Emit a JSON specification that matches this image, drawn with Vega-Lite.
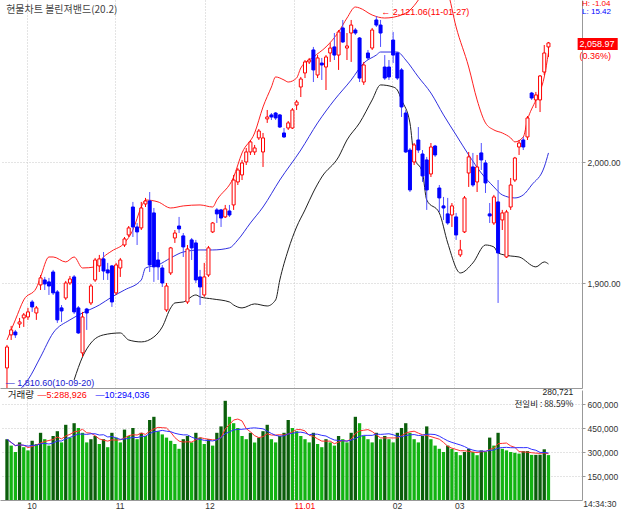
{
"$schema": "https://vega.github.io/schema/vega-lite/v6.json",
"padding": 0,
"spacing": 2,
"bounds": "flush",
"background": "white",
"config": {"view": {"stroke": null}, "axis": {"labelFont": "Liberation Sans", "labelFontSize": 8.5, "labelColor": "#333", "domainColor": "#999", "tickColor": "#999", "gridColor": "#c8c8c8", "gridDash": [1, 2], "labelOverlap": false}},
"datasets": {
"c": [
{"i":0,"o":1830.2,"h":1849.2,"l":1812,"c":1847.5,"v":380000},
{"i":1,"o":1857.5,"h":1864.9,"l":1853.3,"c":1861.6,"v":340000},
{"i":2,"o":1859.9,"h":1861.6,"l":1855.0,"c":1857.5,"v":300000},
{"i":3,"o":1866.5,"h":1871.5,"l":1863.2,"c":1868.2,"v":360000},
{"i":4,"o":1871.5,"h":1875.6,"l":1864.1,"c":1874.0,"v":330000},
{"i":5,"o":1872.3,"h":1879.8,"l":1869.9,"c":1876.5,"v":310000},
{"i":6,"o":1884.7,"h":1886.4,"l":1876.5,"c":1880.6,"v":370000},
{"i":7,"o":1875.6,"h":1881.4,"l":1869.9,"c":1879.8,"v":350000},
{"i":8,"o":1898.8,"h":1907.0,"l":1894.6,"c":1904.6,"v":420000},
{"i":9,"o":1902.9,"h":1905.4,"l":1894.6,"c":1899.6,"v":380000},
{"i":10,"o":1901.3,"h":1904.6,"l":1890.5,"c":1897.9,"v":340000},
{"i":11,"o":1909.5,"h":1911.2,"l":1890.5,"c":1892.2,"v":400000},
{"i":12,"o":1893.0,"h":1894.6,"l":1867.4,"c":1869.9,"v":430000},
{"i":13,"o":1879.8,"h":1882.2,"l":1868.2,"c":1877.3,"v":360000},
{"i":14,"o":1888.0,"h":1902.1,"l":1886.4,"c":1900.4,"v":470000},
{"i":15,"o":1900.4,"h":1906.2,"l":1898.8,"c":1903.7,"v":390000},
{"i":16,"o":1905.4,"h":1907.0,"l":1874.8,"c":1876.5,"v":480000},
{"i":17,"o":1879.8,"h":1881.4,"l":1858.3,"c":1859.1,"v":450000},
{"i":18,"o":1842.6,"h":1876.5,"l":1839.3,"c":1872.3,"v":420000},
{"i":19,"o":1878.9,"h":1879.8,"l":1861.6,"c":1875.6,"v":360000},
{"i":20,"o":1883.9,"h":1899.6,"l":1882.2,"c":1897.9,"v":380000},
{"i":21,"o":1902.9,"h":1921.1,"l":1901.3,"c":1919.4,"v":400000},
{"i":22,"o":1914.5,"h":1923.6,"l":1909.5,"c":1920.3,"v":350000},
{"i":23,"o":1920.3,"h":1926.0,"l":1902.9,"c":1910.3,"v":380000},
{"i":24,"o":1911.2,"h":1917.0,"l":1902.9,"c":1908.7,"v":330000},
{"i":25,"o":1914.5,"h":1915.3,"l":1880.6,"c":1884.7,"v":420000},
{"i":26,"o":1892.2,"h":1917.0,"l":1890.5,"c":1915.3,"v":390000},
{"i":27,"o":1912.8,"h":1921.1,"l":1905.4,"c":1919.4,"v":360000},
{"i":28,"o":1931.8,"h":1938.4,"l":1930.2,"c":1936.8,"v":440000},
{"i":29,"o":1940.1,"h":1947.5,"l":1938.4,"c":1945.9,"v":400000},
{"i":30,"o":1963.2,"h":1967.4,"l":1938.4,"c":1946.7,"v":450000},
{"i":31,"o":1946.7,"h":1950.0,"l":1931.8,"c":1942.6,"v":380000},
{"i":32,"o":1945.9,"h":1967.4,"l":1944.2,"c":1962.4,"v":420000},
{"i":33,"o":1965.7,"h":1970.7,"l":1963.2,"c":1968.2,"v":400000},
{"i":34,"o":1968.2,"h":1975.6,"l":1909.5,"c":1915.3,"v":500000},
{"i":35,"o":1958.3,"h":1962.4,"l":1901.3,"c":1913.7,"v":520000},
{"i":36,"o":1919.4,"h":1926.0,"l":1902.9,"c":1913.7,"v":430000},
{"i":37,"o":1912.8,"h":1915.3,"l":1897.1,"c":1900.4,"v":410000},
{"i":38,"o":1878.1,"h":1900.4,"l":1876.5,"c":1897.9,"v":390000},
{"i":39,"o":1908.7,"h":1930.2,"l":1907.0,"c":1929.4,"v":370000},
{"i":40,"o":1937.6,"h":1944.2,"l":1933.5,"c":1941.7,"v":350000},
{"i":41,"o":1947.5,"h":1955.0,"l":1941.7,"c":1945.1,"v":320000},
{"i":42,"o":1939.3,"h":1941.7,"l":1921.9,"c":1930.2,"v":380000},
{"i":43,"o":1884.7,"h":1931.8,"l":1883.1,"c":1928.5,"v":400000},
{"i":44,"o":1936.0,"h":1937.6,"l":1919.4,"c":1929.4,"v":360000},
{"i":45,"o":1933.5,"h":1936.0,"l":1900.4,"c":1902.9,"v":420000},
{"i":46,"o":1905.4,"h":1911.2,"l":1882.2,"c":1897.1,"v":390000},
{"i":47,"o":1890.5,"h":1917.0,"l":1888.9,"c":1905.4,"v":350000},
{"i":48,"o":1907.0,"h":1931.0,"l":1905.4,"c":1929.4,"v":380000},
{"i":49,"o":1942.6,"h":1950.8,"l":1941.7,"c":1950.0,"v":340000},
{"i":50,"o":1960.8,"h":1962.4,"l":1950.0,"c":1957.5,"v":420000},
{"i":51,"o":1960.8,"h":1961.6,"l":1946.7,"c":1954.1,"v":460000},
{"i":52,"o":1955.0,"h":1964.9,"l":1954.1,"c":1961.6,"v":620000},
{"i":53,"o":1959.9,"h":1964.9,"l":1955.0,"c":1956.6,"v":520000},
{"i":54,"o":1964.9,"h":1989.7,"l":1960.8,"c":1985.5,"v":480000},
{"i":55,"o":1983.9,"h":1995.5,"l":1981.4,"c":1993.8,"v":450000},
{"i":56,"o":1989.7,"h":2002.1,"l":1985.5,"c":1999.6,"v":400000},
{"i":57,"o":2000.4,"h":2012.0,"l":1997.9,"c":2008.7,"v":380000},
{"i":58,"o":2008.7,"h":2018.6,"l":2006.2,"c":2017.0,"v":420000},
{"i":59,"o":2008.7,"h":2014.5,"l":2006.2,"c":2012.0,"v":360000},
{"i":60,"o":2020.3,"h":2027.7,"l":2018.6,"c":2026.0,"v":390000},
{"i":61,"o":2008.7,"h":2024.4,"l":1996.3,"c":2020.3,"v":430000},
{"i":62,"o":2036.0,"h":2043.4,"l":2032.7,"c":2037.6,"v":470000},
{"i":63,"o":2039.3,"h":2040.9,"l":2035.1,"c":2037.6,"v":380000},
{"i":64,"o":2040.9,"h":2041.7,"l":2035.1,"c":2036.8,"v":360000},
{"i":65,"o":2039.3,"h":2040.1,"l":2028.5,"c":2029.3,"v":400000},
{"i":66,"o":2024.4,"h":2028.5,"l":2020.3,"c":2021.1,"v":420000},
{"i":67,"o":2028.5,"h":2034.3,"l":2026.9,"c":2032.7,"v":500000},
{"i":68,"o":2028.5,"h":2045.0,"l":2027.7,"c":2043.4,"v":450000},
{"i":69,"o":2047.5,"h":2051.7,"l":2043.4,"c":2050.0,"v":430000},
{"i":70,"o":2062.4,"h":2070.7,"l":2054.1,"c":2069.0,"v":400000},
{"i":71,"o":2074.0,"h":2084.7,"l":2069.8,"c":2083.1,"v":380000},
{"i":72,"o":2083.1,"h":2086.4,"l":2081.4,"c":2084.7,"v":360000},
{"i":73,"o":2093.0,"h":2095.5,"l":2066.5,"c":2076.5,"v":420000},
{"i":74,"o":2072.3,"h":2088.8,"l":2069.8,"c":2086.4,"v":350000},
{"i":75,"o":2082.2,"h":2086.4,"l":2068.2,"c":2080.6,"v":330000},
{"i":76,"o":2078.9,"h":2088.8,"l":2059.9,"c":2087.2,"v":380000},
{"i":77,"o":2090.5,"h":2098.8,"l":2083.1,"c":2094.6,"v":360000},
{"i":78,"o":2095.5,"h":2107.0,"l":2084.7,"c":2088.8,"v":340000},
{"i":79,"o":2088.8,"h":2109.5,"l":2076.5,"c":2107.9,"v":400000},
{"i":80,"o":2111.2,"h":2117.8,"l":2098.8,"c":2099.6,"v":380000},
{"i":81,"o":2094.6,"h":2107.0,"l":2084.7,"c":2096.3,"v":360000},
{"i":82,"o":2107.0,"h":2117.8,"l":2083.1,"c":2113.6,"v":420000},
{"i":83,"o":2109.5,"h":2111.2,"l":2105.4,"c":2107.0,"v":520000},
{"i":84,"o":2102.9,"h":2103.7,"l":2066.5,"c":2069.8,"v":480000},
{"i":85,"o":2066.5,"h":2083.1,"l":2064.1,"c":2080.6,"v":400000},
{"i":86,"o":2090.5,"h":2093.0,"l":2084.7,"c":2086.4,"v":380000},
{"i":87,"o":2094.6,"h":2111.2,"l":2093.0,"c":2109.5,"v":360000},
{"i":88,"o":2117.8,"h":2121.06,"l":2112.0,"c":2113.6,"v":420000},
{"i":89,"o":2113.6,"h":2117.8,"l":2095.5,"c":2107.0,"v":380000},
{"i":90,"o":2078.9,"h":2088.8,"l":2068.2,"c":2069.8,"v":400000},
{"i":91,"o":2078.9,"h":2084.7,"l":2068.2,"c":2070.7,"v":380000},
{"i":92,"o":2101.2,"h":2107.9,"l":2082.2,"c":2088.8,"v":360000},
{"i":93,"o":2090.5,"h":2091.3,"l":2068.2,"c":2069.8,"v":420000},
{"i":94,"o":2076.5,"h":2078.1,"l":2037.6,"c":2045.9,"v":450000},
{"i":95,"o":2040.9,"h":2043.4,"l":2007.9,"c":2008.7,"v":480000},
{"i":96,"o":2010.3,"h":2012.0,"l":1975.6,"c":1977.3,"v":420000},
{"i":97,"o":2000.4,"h":2016.1,"l":1997.9,"c":2014.5,"v":380000},
{"i":98,"o":2018.6,"h":2029.3,"l":2007.9,"c":2010.3,"v":360000},
{"i":99,"o":2007.0,"h":2010.3,"l":1983.9,"c":1988.9,"v":400000},
{"i":100,"o":2002.1,"h":2004.6,"l":1960.8,"c":1977.3,"v":460000},
{"i":101,"o":1990.5,"h":2016.1,"l":1988.0,"c":2012.8,"v":380000},
{"i":102,"o":2013.6,"h":2014.5,"l":2004.6,"c":2006.2,"v":340000},
{"i":103,"o":1978.9,"h":1981.4,"l":1959.1,"c":1970.7,"v":320000},
{"i":104,"o":1964.1,"h":1971.5,"l":1952.5,"c":1962.4,"v":300000},
{"i":105,"o":1957.5,"h":1970.7,"l":1948.4,"c":1950.0,"v":340000},
{"i":106,"o":1956.6,"h":1966.5,"l":1946.7,"c":1964.1,"v":320000},
{"i":107,"o":1955.0,"h":1958.3,"l":1936.0,"c":1940.1,"v":300000},
{"i":108,"o":1923.6,"h":1936.0,"l":1921.9,"c":1927.7,"v":280000},
{"i":109,"o":1942.6,"h":1972.3,"l":1941.7,"c":1970.7,"v":300000},
{"i":110,"o":1991.3,"h":2008.7,"l":1979.8,"c":2004.6,"v":320000},
{"i":111,"o":1996.3,"h":2007.9,"l":1979.8,"c":1981.4,"v":300000},
{"i":112,"o":1983.9,"h":2006.2,"l":1975.6,"c":1996.3,"v":280000},
{"i":113,"o":2007.9,"h":2016.1,"l":1993.8,"c":2002.1,"v":310000},
{"i":114,"o":1999.6,"h":2002.1,"l":1974.8,"c":1983.1,"v":300000},
{"i":115,"o":1957.5,"h":1966.5,"l":1950.0,"c":1955.8,"v":390000},
{"i":116,"o":1950.0,"h":1973.2,"l":1948.4,"c":1971.5,"v":340000},
{"i":117,"o":1967.4,"h":1985.5,"l":1883.9,"c":1925.2,"v":420000},
{"i":118,"o":1952.5,"h":1960.8,"l":1944.2,"c":1958.3,"v":320000},
{"i":119,"o":1921.9,"h":1960.8,"l":1921.1,"c":1959.1,"v":310000},
{"i":120,"o":1963.2,"h":1987.2,"l":1960.8,"c":1981.4,"v":300000},
{"i":121,"o":1985.5,"h":2004.6,"l":1983.9,"c":2003.7,"v":295000},
{"i":122,"o":2012.8,"h":2018.6,"l":2006.2,"c":2016.1,"v":290000},
{"i":123,"o":2018.6,"h":2021.1,"l":2010.3,"c":2012.8,"v":305000},
{"i":124,"o":2021.1,"h":2038.4,"l":2018.6,"c":2036.8,"v":305730},
{"i":125,"o":2057.4,"h":2058.3,"l":2051.7,"c":2053.3,"v":282000},
{"i":126,"o":2051.7,"h":2058.3,"l":2045.0,"c":2055.8,"v":282000},
{"i":127,"o":2051.7,"h":2072.3,"l":2041.7,"c":2071.5,"v":283033},
{"i":128,"o":2074.8,"h":2097.1,"l":2072.3,"c":2090.5,"v":316876},
{"i":129,"o":2095.5,"h":2099.6,"l":2087.2,"c":2098.8,"v":280721}
],
"bu": [
{"i":0,"p":1853.3},{"i":2,"p":1869.9},{"i":4,"p":1886.4},{"i":7,"p":1896.3},{"i":8,"p":1905.4},{"i":10,"p":1921.9},{"i":11,"p":1921.9},{"i":14,"p":1917.8},{"i":16,"p":1921.9},{"i":18,"p":1912.8},{"i":21,"p":1913.7},{"i":23,"p":1921.9},{"i":25,"p":1926.9},{"i":28,"p":1933.5},{"i":30,"p":1944.2},{"i":32,"p":1963.2},{"i":33,"p":1969.0},{"i":36,"p":1967.4},{"i":39,"p":1962.4},{"i":42,"p":1964.1},{"i":46,"p":1964.9},{"i":49,"p":1963.2},{"i":50,"p":1969.0},{"i":54,"p":1988.0},{"i":56,"p":2007.9},{"i":59,"p":2024.4},{"i":61,"p":2045.9},{"i":63,"p":2062.4},{"i":64,"p":2070.7},{"i":66,"p":2068.2},{"i":67,"p":2066.5},{"i":69,"p":2069.8},{"i":70,"p":2078.1},{"i":73,"p":2087.2},{"i":76,"p":2095.5},{"i":79,"p":2107.9},{"i":81,"p":2119.4},{"i":83,"p":2128.5},{"i":84,"p":2127.7},{"i":87,"p":2121.9},{"i":90,"p":2119.4},{"i":94,"p":2121.9},{"i":96,"p":2126.0},{"i":98,"p":2134.3},{"i":100,"p":2146.7},{"i":103,"p":2150.8},{"i":105,"p":2140.9},{"i":107,"p":2112.0},{"i":110,"p":2078.9},{"i":112,"p":2051.7},{"i":114,"p":2032.7},{"i":116,"p":2026.9},{"i":118,"p":2024.4},{"i":120,"p":2020.3},{"i":121,"p":2017.0},{"i":123,"p":2021.1},{"i":124,"p":2035.1},{"i":126,"p":2051.7},{"i":128,"p":2070.7},{"i":129,"p":2090.5}
],
"bm": [
{"i":3,"p":1812.0},{"i":5,"p":1820.3},{"i":8,"p":1839.3},{"i":11,"p":1859.1},{"i":15,"p":1869.9},{"i":18,"p":1875.6},{"i":22,"p":1882.2},{"i":25,"p":1888.9},{"i":28,"p":1894.6},{"i":32,"p":1902.9},{"i":33,"p":1912.8},{"i":36,"p":1915.3},{"i":39,"p":1921.1},{"i":42,"p":1926.0},{"i":46,"p":1927.7},{"i":49,"p":1927.7},{"i":53,"p":1929.4},{"i":55,"p":1936.0},{"i":58,"p":1950.0},{"i":61,"p":1963.2},{"i":65,"p":1985.5},{"i":70,"p":2010.3},{"i":74,"p":2032.7},{"i":78,"p":2051.7},{"i":82,"p":2068.2},{"i":85,"p":2082.2},{"i":88,"p":2088.8},{"i":89,"p":2091.3},{"i":93,"p":2091.3},{"i":95,"p":2084.7},{"i":98,"p":2070.7},{"i":101,"p":2057.4},{"i":104,"p":2039.3},{"i":107,"p":2022.7},{"i":110,"p":2006.2},{"i":113,"p":1991.3},{"i":116,"p":1979.8},{"i":118,"p":1973.2},{"i":121,"p":1970.7},{"i":123,"p":1973.2},{"i":125,"p":1981.4},{"i":128,"p":1996.3},{"i":129,"p":2007.9}
],
"bl": [
{"i":16,"p":1820.3},{"i":18,"p":1839.3},{"i":20,"p":1850.8},{"i":23,"p":1857.5},{"i":27,"p":1859.1},{"i":29,"p":1853.3},{"i":32,"p":1851.7},{"i":35,"p":1855.8},{"i":37,"p":1864.1},{"i":39,"p":1879.8},{"i":40,"p":1883.9},{"i":42,"p":1884.7},{"i":45,"p":1890.5},{"i":46,"p":1888.9},{"i":49,"p":1887.2},{"i":53,"p":1884.7},{"i":54,"p":1882.2},{"i":56,"p":1879.8},{"i":59,"p":1883.1},{"i":62,"p":1881.4},{"i":64,"p":1886.4},{"i":65,"p":1902.9},{"i":67,"p":1927.7},{"i":69,"p":1946.7},{"i":71,"p":1960.8},{"i":73,"p":1975.6},{"i":75,"p":1988.0},{"i":79,"p":2004.6},{"i":81,"p":2018.6},{"i":84,"p":2032.7},{"i":87,"p":2051.7},{"i":89,"p":2064.1},{"i":92,"p":2062.4},{"i":93,"p":2059.9},{"i":94,"p":2051.7},{"i":96,"p":2032.7},{"i":97,"p":2004.6},{"i":99,"p":1991.3},{"i":100,"p":1969.0},{"i":103,"p":1958.3},{"i":105,"p":1933.5},{"i":108,"p":1908.7},{"i":111,"p":1917.0},{"i":114,"p":1931.8},{"i":116,"p":1930.2},{"i":117,"p":1925.2},{"i":120,"p":1922.7},{"i":122,"p":1921.9},{"i":126,"p":1913.7},{"i":128,"p":1917.8},{"i":129,"p":1916.1}
]
},
"vconcat": [
{
"width": 582, "height": 388,
"layer": [
{"data": {"name": "bu"}, "mark": {"type": "line", "color": "#ff2020", "strokeWidth": 1, "clip": true, "interpolate": "monotone"},
 "encoding": {
  "x": {"field": "i", "type": "quantitative", "scale": {"domain": [-0.47, 135.8], "nice": false, "zero": false},
        "axis": {"values": [4.7, 25.8, 47.1, 68.4, 91.8, 106.6], "labels": false, "ticks": false, "domain": true, "grid": true, "title": null}},
  "y": {"field": "p", "type": "quantitative", "scale": {"domain": [1813.6, 2134.3], "nice": false, "zero": false},
        "axis": {"orient": "right", "values": [1900, 2000], "format": ",.2f", "tickSize": 3, "labelPadding": 2, "grid": true, "labelOverlap": false, "title": null}}}},
{"data": {"name": "bm"}, "mark": {"type": "line", "color": "#3030e0", "strokeWidth": 1, "clip": true, "interpolate": "monotone"},
 "encoding": {"x": {"field": "i", "type": "quantitative"}, "y": {"field": "p", "type": "quantitative"}}},
{"data": {"name": "bl"}, "mark": {"type": "line", "color": "#202020", "strokeWidth": 1, "clip": true, "interpolate": "monotone"},
 "encoding": {"x": {"field": "i", "type": "quantitative"}, "y": {"field": "p", "type": "quantitative"}}},
{"data": {"name": "c"}, "mark": {"type": "rule", "clip": true, "strokeWidth": 1},
 "encoding": {"x": {"field": "i", "type": "quantitative"}, "y": {"field": "l", "type": "quantitative"}, "y2": {"field": "h"},
  "color": {"condition": {"test": "datum.c >= datum.o", "value": "#ff0000"}, "value": "#5050ff"}}},
{"data": {"name": "c"}, "mark": {"type": "bar", "width": 3, "clip": true, "strokeWidth": 1},
 "encoding": {"x": {"field": "i", "type": "quantitative"}, "y": {"field": "o", "type": "quantitative"}, "y2": {"field": "c"},
  "fill": {"condition": {"test": "datum.c >= datum.o", "value": "#ffffff"}, "value": "#0000ff"},
  "stroke": {"condition": {"test": "datum.c >= datum.o", "value": "#ff0000"}, "value": "#0000ff"}}},
{"data": {"values": [{}]}, "mark": {"type": "text", "align": "left", "baseline": "middle", "font": "Noto Sans CJK KR", "fontSize": 10, "color": "#444"},
 "encoding": {"x": {"datum": -0.2}, "y": {"datum": 2126}, "text": {"value": "현물차트 볼린져밴드(20.2)"}}},
{"data": {"values": [{}]}, "mark": {"type": "text", "align": "left", "baseline": "middle", "font": "Liberation Sans", "fontSize": 9, "color": "#ff0000", "dx": 2},
 "encoding": {"x": {"datum": 88.7}, "y": {"datum": 2124.5}, "text": {"value": "← 2,121.06(11-01-27)"}}},
{"data": {"values": [{}]}, "mark": {"type": "text", "align": "left", "baseline": "middle", "font": "Liberation Sans", "fontSize": 9, "color": "#2020d0"},
 "encoding": {"x": {"datum": -0.3}, "y": {"datum": 1817.8}, "text": {"value": "— 1,810.60(10-09-20)"}}},
{"data": {"values": [{}]}, "mark": {"type": "rect", "color": "#ff0000", "clip": false},
 "encoding": {"x": {"datum": 135.95}, "x2": {"datum": 145.5}, "y": {"datum": 2102.9}, "y2": {"datum": 2093.0}}},
{"data": {"values": [{}]}, "mark": {"type": "text", "align": "left", "baseline": "middle", "font": "Liberation Sans", "fontSize": 9, "color": "#ffffff", "clip": false},
 "encoding": {"x": {"datum": 136.4}, "y": {"datum": 2097.9}, "text": {"value": "2,058.97"}}},
{"data": {"values": [{}]}, "mark": {"type": "text", "align": "left", "baseline": "middle", "font": "Liberation Sans", "fontSize": 9, "color": "#ff0000", "clip": false},
 "encoding": {"x": {"datum": 136.4}, "y": {"datum": 2088.0}, "text": {"value": "(0.36%)"}}},
{"data": {"values": [{}]}, "mark": {"type": "text", "align": "left", "baseline": "middle", "font": "Liberation Sans", "fontSize": 8, "color": "#ff0000", "clip": false},
 "encoding": {"x": {"datum": 137}, "y": {"datum": 2130.8}, "text": {"value": "H: -1.04"}}},
{"data": {"values": [{}]}, "mark": {"type": "text", "align": "left", "baseline": "middle", "font": "Liberation Sans", "fontSize": 8, "color": "#0000ff", "clip": false},
 "encoding": {"x": {"datum": 137}, "y": {"datum": 2124.2}, "text": {"value": "L: 15.42"}}}
]
},
{
"width": 582, "height": 110,
"data": {"name": "c"},
"transform": [
 {"window": [{"op": "lag", "field": "v", "as": "pv"}], "sort": [{"field": "i"}]},
 {"window": [{"op": "mean", "field": "v", "as": "ma5"}], "frame": [-4, 0], "sort": [{"field": "i"}]},
 {"window": [{"op": "mean", "field": "v", "as": "ma10"}], "frame": [-9, 0], "sort": [{"field": "i"}]}
],
"resolve": {"axis": {"y": "independent", "x": "independent"}},
"layer": [
{"mark": {"type": "bar", "width": 3.3},
 "encoding": {
  "x": {"field": "i", "type": "quantitative", "scale": {"domain": [-0.47, 135.8], "nice": false, "zero": false},
        "axis": {"values": [4.7, 25.8, 47.1, 68.4, 91.8, 106.6], "labelExpr": "datum.value < 10 ? '10' : datum.value < 30 ? '11' : datum.value < 50 ? '12' : datum.value < 80 ? '11.01' : datum.value < 100 ? '02' : '03'",
                 "labelAlign": "left", "labelPadding": 1, "labelFontSize": 8.5, "ticks": false, "grid": true, "title": null,
                 "labelColor": {"condition": {"test": "datum.value > 60 && datum.value < 80", "value": "#ff0000"}, "value": "#333"}}},
  "y": {"field": "v", "type": "quantitative", "scale": {"domain": [0, 687500], "nice": false},
        "axis": {"orient": "right", "values": [150000, 300000, 450000, 600000], "format": ",d", "tickSize": 3, "labelPadding": 2, "grid": true, "labelOverlap": false, "title": null}},
  "color": {"condition": {"test": "datum.pv == null || datum.v >= datum.pv", "value": "#0b5e0b"}, "value": "#12b312"}}},
{"mark": {"type": "line", "color": "#ff3030", "strokeWidth": 1},
 "encoding": {"x": {"field": "i", "type": "quantitative", "axis": null}, "y": {"field": "ma5", "type": "quantitative", "axis": null}}},
{"mark": {"type": "line", "color": "#3030ff", "strokeWidth": 1},
 "encoding": {"x": {"field": "i", "type": "quantitative", "axis": null}, "y": {"field": "ma10", "type": "quantitative", "axis": null}}},
{"data": {"values": [{}]}, "mark": {"type": "text", "align": "left", "baseline": "middle", "font": "Noto Sans CJK KR", "fontSize": 9.5, "color": "#222"},
 "encoding": {"x": {"datum": 0.2, "axis": null}, "y": {"datum": 656250, "axis": null}, "text": {"value": "거래량"}}},
{"data": {"values": [{}]}, "mark": {"type": "text", "align": "left", "baseline": "middle", "font": "Liberation Sans", "fontSize": 9, "color": "#ff0000"},
 "encoding": {"x": {"datum": 7.3, "axis": null}, "y": {"datum": 656250, "axis": null}, "text": {"value": "—5:288,926"}}},
{"data": {"values": [{}]}, "mark": {"type": "text", "align": "left", "baseline": "middle", "font": "Liberation Sans", "fontSize": 9, "color": "#0000ff"},
 "encoding": {"x": {"datum": 21.1, "axis": null}, "y": {"datum": 656250, "axis": null}, "text": {"value": "—10:294,036"}}},
{"data": {"values": [{}]}, "mark": {"type": "text", "align": "right", "baseline": "middle", "font": "Liberation Sans", "fontSize": 8.5, "color": "#222"},
 "encoding": {"x": {"datum": 134.9, "axis": null}, "y": {"datum": 675000, "axis": null}, "text": {"value": "280,721"}}},
{"data": {"values": [{}]}, "mark": {"type": "text", "align": "right", "baseline": "middle", "font": "Noto Sans CJK KR", "fontSize": 8.5, "color": "#222"},
 "encoding": {"x": {"datum": 134.9, "axis": null}, "y": {"datum": 603000, "axis": null}, "text": {"value": "전일비 : 88.59%"}}},
{"data": {"values": [{}]}, "mark": {"type": "text", "align": "left", "baseline": "middle", "font": "Liberation Sans", "fontSize": 8.5, "color": "#333", "clip": false},
 "encoding": {"x": {"datum": 137.3, "axis": null}, "y": {"datum": -28000, "axis": null}, "text": {"value": "14:34:30"}}}
]
}
]
}
